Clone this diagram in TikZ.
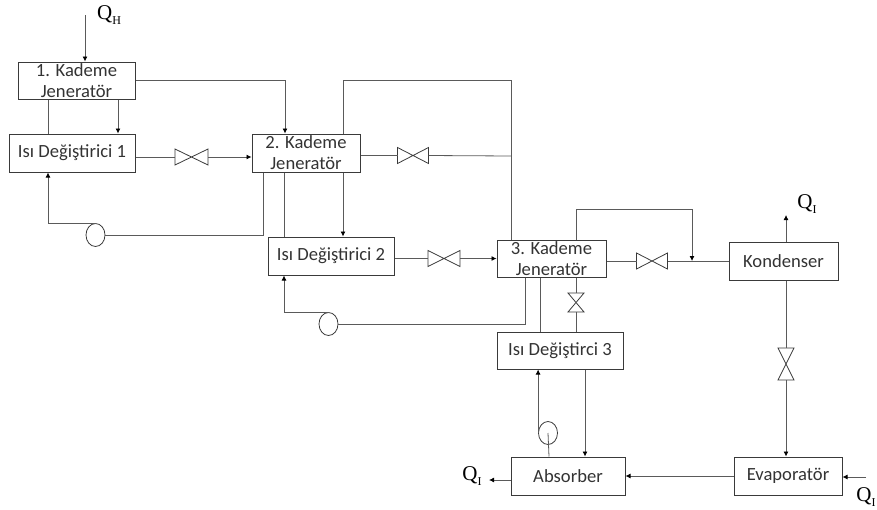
\documentclass[tikz,border=0pt]{standalone}
\usepackage{fontspec}
\setmainfont{Carlito}
\newfontfamily\qfont{Liberation Serif}
\usetikzlibrary{arrows.meta,shapes.geometric}
\definecolor{ln}{HTML}{5A5A5A}
\definecolor{bx}{HTML}{3A3A3A}
\definecolor{tx}{HTML}{333333}
\tikzset{
  boxn/.style={draw=bx,line width=1pt,rectangle,inner sep=0pt,align=center,text=tx,
    font=\fontsize{18.6}{21}\selectfont},
  pump/.style={draw=bx,line width=.8pt,ellipse,inner sep=0pt,minimum width=19pt,minimum height=23pt},
  valvebox/.style={inner sep=0pt,outer sep=0pt,rectangle},
  valveline/.style={draw=bx,line width=.8pt,line join=miter},
  qlab/.style={inner sep=0pt,text=black,font=\qfont\fontsize{21}{21}\selectfont},
  ln/.style={draw=ln,line width=.8pt},
  ar/.style={ln,-{Latex[length=5pt,width=5pt,color=black]}},
}
\newcommand{\Qs}[1]{Q\raisebox{-5pt}{\fontsize{12}{12}\selectfont #1}}
\begin{document}
\begin{tikzpicture}[x=1pt,y=-1pt]
\useasboundingbox (0,0) rectangle (877,509);
% boxes
\node[boxn,minimum width=117pt,minimum height=37pt] (k1) at (76.5,80.5) {1. Kademe\\Jeneratör};
\node[boxn,minimum width=126pt,minimum height=38pt] (h1) at (72,153) {Isı Değiştirici 1};
\node[boxn,minimum width=108pt,minimum height=38pt] (k2) at (306,153) {2. Kademe\\Jeneratör};
\node[boxn,minimum width=126pt,minimum height=38pt] (h2) at (331,256) {Isı Değiştirici 2};
\node[boxn,minimum width=109pt,minimum height=37pt] (k3) at (551.5,258.5) {3. Kademe\\Jeneratör};
\node[boxn,minimum width=126pt,minimum height=37pt] (h3) at (560,350.5) {Isı Değiştirci 3};
\node[boxn,minimum width=109pt,minimum height=38pt] (kon) at (783.5,261) {Kondenser};
\node[boxn,minimum width=114pt,minimum height=38pt] (abs) at (568,476) {Absorber};
\node[boxn,minimum width=108pt,minimum height=38pt] (eva) at (788,476) {Evaporatör};
% valves
\node[valvebox,minimum width=33pt,minimum height=16pt] (v1) at (191.5,157) {};
\node[valvebox,minimum width=31pt,minimum height=16pt] (v2) at (413,155.5) {};
\node[valvebox,minimum width=32pt,minimum height=16pt] (v3) at (444,258.5) {};
\node[valvebox,minimum width=31pt,minimum height=16pt] (v4) at (652,261) {};
\node[valvebox,minimum width=16pt,minimum height=19pt] (v5) at (576,302.5) {};
\node[valvebox,minimum width=16pt,minimum height=32pt] (v6) at (786,364) {};
\foreach \v in {v1,v2,v3,v4}
  \draw[valveline] (\v.north west)--(\v.south east)--(\v.north east)--(\v.south west)--cycle;
\foreach \v in {v5,v6}
  \draw[valveline] (\v.north west)--(\v.north east)--(\v.south west)--(\v.south east)--cycle;
% pumps
\node[pump] (p1) at (95.5,235) {};
\node[pump] (p2) at (328.5,324) {};
\node[pump] (p3) at (548,433) {};
% labels
\node[qlab] (qh) at (109,15) {\Qs{H}};
\node[qlab] (qk) at (807,204) {\Qs{I}};
\node[qlab] (qa) at (472,476) {\Qs{I}};
\node[qlab] (qe) at (866,497) {\Qs{I}};
\coordinate (qhs) at (85,15);
\coordinate (qes) at (866,477);
\coordinate (qkt) at (786,215);
\coordinate (qat) at (489,480);
\coordinate (jv) at (511,156);
\coordinate (jk) at (692,261);
% connectors
\draw[ar] (qhs) -- (k1.north -| qhs);
\draw[ar] (k1.east |- 0,80) -| (k2.north -| 285,0);
\draw[ln] (k1.south -| 48,0) -- (h1.north -| 48,0);
\draw[ar] (k1.south -| 118,0) -- (h1.north -| 118,0);
\draw[ln] (h1.east |- v1.west) -- (v1.west);
\draw[ar] (v1.east) -- (k2.west |- v1.east);
\draw[ln] (k2.south -| 263,0) |- (p1.east);
\draw[ar] (p1.north) -| (h1.south -| 48,0);
\draw[ln] (k2.south -| 284,0) -- (h2.north -| 284,0);
\draw[ar] (k2.south -| 343,0) -- (h2.north -| 343,0);
\draw[ln] (k2.north -| 343,0) |- (511,80) -- (k3.north -| 511,0);
\draw[ln] (k2.east |- v2.west) -- (v2.west);
\draw[ln] (v2.east) -- (jv);
\draw[ln] (h2.east |- v3.west) -- (v3.west);
\draw[ar] (v3.east) -- (k3.west |- v3.east);
\draw[ln] (k3.south -| 525,0) |- (p2.east);
\draw[ar] (p2.north) -| (h2.south -| 284,0);
\draw[ln] (k3.south -| 540,0) -- (h3.north -| 540,0);
\draw[ln] (k3.north -| 576,0) |- (692,209) coordinate (tr);
\draw[ar] (tr) -- (jk);
\draw[ln] (k3.east |- v4.west) -- (v4.west);
\draw[ln] (v4.east) -- (kon.west);
\draw[ln] (k3.south -| 576,0) -- (v5.north);
\draw[ln] (v5.south) -- (h3.north -| v5.south);
\draw[ar] (kon.north -| qkt) -- (qkt);
\draw[ln] (kon.south -| v6.north) -- (v6.north);
\draw[ar] (v6.south) -- (eva.north -| v6.south);
\draw[ar] (eva.west) -- (abs.east);
\draw[ar] (qes) -- (eva.east |- qes);
\draw[ar] (abs.west |- qat) -- (qat);
\draw[ln] (abs.north -| 549,0) -- (p3.center);
\draw[ar] (p3.west) -- (h3.south -| p3.west);
\draw[ar] (h3.south -| 585,0) -- (abs.north -| 585,0);
\end{tikzpicture}
\end{document}
